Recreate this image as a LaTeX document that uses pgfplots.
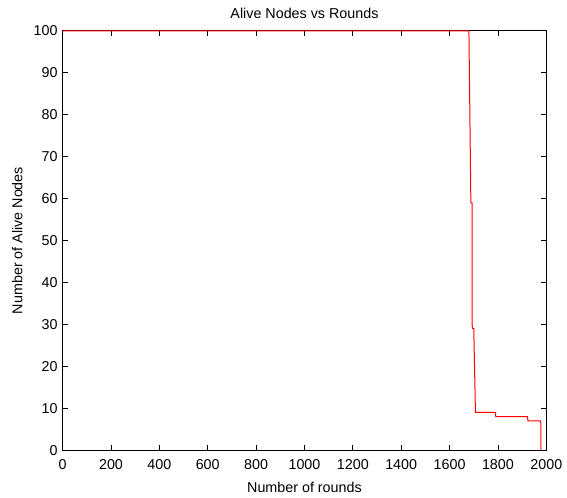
\documentclass[border=0pt]{standalone}
\usepackage{fontspec}
\setmainfont{Liberation Sans}
\usepackage{pgfplots}
\pgfplotsset{compat=1.18}

\begin{document}
\fontsize{10.8}{13}\selectfont
\begin{tikzpicture}
\begin{axis}[
  scale only axis,
  width=365pt,
  height=316.5pt,
  xmin=0, xmax=2000,
  ymin=0, ymax=100,
  xtick={0,200,...,2000},
  ytick={0,10,...,100},
  tick align=inside,
  major tick length=3.75pt,
  xtick pos=both, ytick pos=both,
  axis line style={line width=0.75pt},
  tick style={line width=0.6pt, black},
  /pgf/number format/assume math mode=true,
  /pgf/number format/1000 sep={},
  ticklabel style={font=\fontsize{10.8}{13}\selectfont},
  xticklabel style={yshift=-3pt},
  title={Alive Nodes vs Rounds},
  title style={yshift=-1pt},
  xlabel={Number of rounds},
  ylabel={Number of Alive Nodes},
  xlabel style={yshift=-2pt},
  ylabel style={yshift=1pt},
  clip=false,
]
\addplot[red, line width=0.75pt] coordinates {
  (0,100) (1680,100) (1688,59) (1693,59) (1693,30) (1695,29) (1700,29)
  (1707,9) (1790,9) (1791,8) (1922,8) (1924,7) (1975,7) (1977,6.5) (1977,0)
};
\end{axis}
\path (current axis.south west) ++(-47.25pt,-33.75pt);
\path (current axis.north east) ++(14.25pt,23.25pt);
\end{tikzpicture}
\end{document}
